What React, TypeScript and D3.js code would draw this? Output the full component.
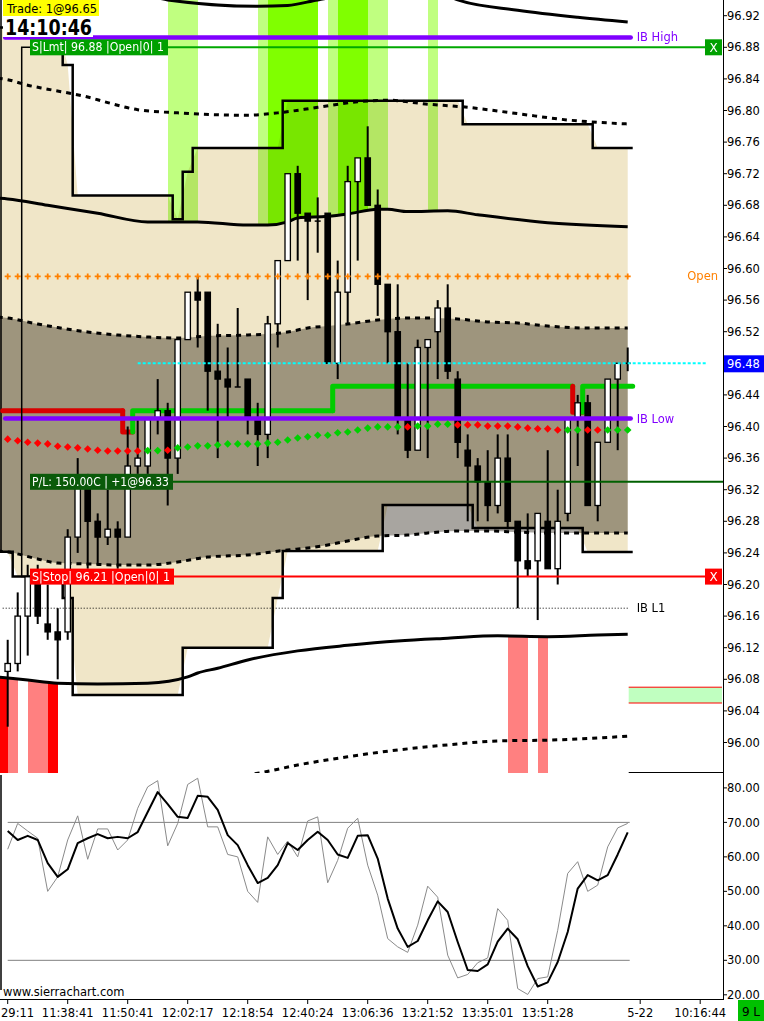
import { useEffect, useRef } from 'react'
import * as d3 from 'd3'

type Run = [number, number, number]
type Pt = [number, number]

const FONT = "Tahoma, 'DejaVu Sans', Verdana, sans-serif"
const WIDTH = 764
const HEIGHT = 1021

// one bar per slot, bar 0 = 11:29:11 ; [open, high, low, close]
const candles: [number, number, number, number][] = [
  [96.09, 96.13, 96.02, 96.10], [96.10, 96.19, 96.09, 96.16], [96.16, 96.225, 96.11, 96.21],
  [96.20, 96.225, 96.15, 96.16], [96.15, 96.20, 96.13, 96.14], [96.14, 96.17, 96.08, 96.13],
  [96.14, 96.27, 96.13, 96.26], [96.26, 96.36, 96.24, 96.325], [96.32, 96.34, 96.22, 96.28],
  [96.28, 96.29, 96.225, 96.26], [96.26, 96.32, 96.25, 96.27], [96.27, 96.28, 96.22, 96.26],
  [96.26, 96.40, 96.26, 96.35], [96.35, 96.41, 96.34, 96.36], [96.35, 96.41, 96.34, 96.41],
  [96.41, 96.46, 96.39, 96.42], [96.42, 96.43, 96.30, 96.36], [96.36, 96.51, 96.34, 96.51],
  [96.51, 96.57, 96.51, 96.57], [96.57, 96.59, 96.50, 96.56], [96.57, 96.57, 96.42, 96.47],
  [96.47, 96.53, 96.36, 96.46], [96.46, 96.50, 96.41, 96.45], [96.45, 96.55, 96.45, 96.45],
  [96.46, 96.46, 96.39, 96.41], [96.41, 96.43, 96.35, 96.39], [96.39, 96.54, 96.36, 96.53],
  [96.53, 96.61, 96.50, 96.61], [96.61, 96.72, 96.61, 96.72], [96.72, 96.73, 96.61, 96.67],
  [96.67, 96.67, 96.56, 96.66], [96.66, 96.69, 96.62, 96.66], [96.67, 96.67, 96.48, 96.48],
  [96.48, 96.61, 96.46, 96.57], [96.57, 96.73, 96.53, 96.71], [96.71, 96.74, 96.61, 96.74],
  [96.74, 96.78, 96.68, 96.68], [96.68, 96.70, 96.54, 96.58], [96.58, 96.58, 96.48, 96.52],
  [96.52, 96.58, 96.39, 96.41], [96.41, 96.48, 96.36, 96.37], [96.37, 96.51, 96.37, 96.50],
  [96.50, 96.51, 96.36, 96.51], [96.52, 96.56, 96.46, 96.55], [96.55, 96.58, 96.46, 96.47],
  [96.46, 96.47, 96.36, 96.38], [96.37, 96.39, 96.28, 96.35], [96.35, 96.36, 96.28, 96.33],
  [96.33, 96.37, 96.28, 96.30], [96.30, 96.39, 96.29, 96.36], [96.36, 96.39, 96.27, 96.28],
  [96.28, 96.28, 96.17, 96.23], [96.23, 96.29, 96.21, 96.22], [96.23, 96.29, 96.155, 96.29],
  [96.28, 96.37, 96.22, 96.22], [96.22, 96.32, 96.20, 96.28], [96.29, 96.41, 96.28, 96.41],
  [96.41, 96.44, 96.35, 96.43], [96.43, 96.44, 96.30, 96.30], [96.30, 96.38, 96.28, 96.38],
  [96.38, 96.46, 96.38, 96.46], [96.46, 96.48, 96.37, 96.48], [96.48, 96.50, 96.47, 96.48],
]

const timeTickBars = [0, 6, 12, 18, 24, 30, 36, 42, 48, 54, 63.25, 69.25]
const timeTickLabels = ['29:11', '11:38:41', '11:50:41', '12:02:17', '12:18:54', '12:40:24',
  '13:06:36', '13:21:52', '13:35:01', '13:51:28', '5-22', '10:16:44']

const priceTicks = [96.92, 96.88, 96.84, 96.80, 96.76, 96.72, 96.68, 96.64, 96.60, 96.56, 96.52,
  96.44, 96.40, 96.36, 96.32, 96.28, 96.24, 96.20, 96.16, 96.12, 96.08, 96.04, 96.00]
const oscTicks = [80, 70, 60, 50, 40, 30, 20]
const lastPrice = 96.48

// bands, [bar, price]
const outerBandTop: Pt[] = [[-1, 96.95], [14, 96.945], [16, 96.94], [25, 96.932], [28, 96.933], [31, 96.94],
  [36, 96.95], [40, 96.952], [44, 96.945], [45, 96.94], [51, 96.927], [57, 96.918], [62, 96.912]]
const dottedBandTop: Pt[] = [[-1, 96.841], [0, 96.839], [2, 96.832], [4, 96.827], [8, 96.817], [10, 96.81],
  [13, 96.801], [17, 96.797], [24, 96.794], [27, 96.797], [31, 96.804], [35, 96.811], [38, 96.813],
  [42, 96.808], [46, 96.804], [51, 96.796], [56, 96.788], [62, 96.783]]
const midBandTop: Pt[] = [[-1, 96.689], [0, 96.688], [4, 96.68], [9, 96.67], [14, 96.659], [19, 96.659],
  [24, 96.655], [26, 96.655], [28, 96.659], [29, 96.664], [32, 96.666], [34, 96.669], [37, 96.675],
  [38, 96.675], [40, 96.672], [44, 96.673], [47, 96.668], [54, 96.658], [62, 96.653]]
const innerBandBars = [-1, 0, 3, 5, 8, 11, 14, 17, 20, 24, 28, 30, 32, 34, 37, 40, 42, 45, 48, 51, 54, 58, 62]
const innerBandHigh = [96.5386, 96.5373, 96.5297, 96.5253, 96.5196, 96.5158, 96.5133, 96.512, 96.5146,
  96.5158, 96.5196, 96.5247, 96.5272, 96.5297, 96.5348, 96.5373, 96.5373, 96.5361, 96.5323, 96.531,
  96.5272, 96.5247, 96.5247]
const innerBandLow = [96.2424, 96.2411, 96.2323, 96.2272, 96.226, 96.2247, 96.2247, 96.2285, 96.2348,
  96.2374, 96.2437, 96.2462, 96.25, 96.2551, 96.2614, 96.2626, 96.2652, 96.2677, 96.2677, 96.2664,
  96.2652, 96.2652, 96.2652]
const midBandBottom: Pt[] = [[-1, 96.083], [2, 96.079], [5, 96.075], [9, 96.074], [14, 96.075], [18, 96.083],
  [19, 96.088], [21, 96.094], [24, 96.1045], [29, 96.116], [34, 96.123], [39, 96.1285], [44, 96.132],
  [49, 96.135], [54, 96.134], [59, 96.136], [62, 96.137]]
const dottedBandBottom: Pt[] = [[-1, 95.941], [0, 95.94], [10, 95.931], [15, 95.935], [20, 95.954], [25, 95.961],
  [29, 95.9715], [34, 95.982], [39, 95.9905], [44, 95.997], [49, 96.002], [54, 96.003], [59, 96.0057], [62, 96.008]]

// value area steps [fromBar, toBar, price]
const valueAreaHigh: Run[] = [[-1, 5, 96.905], [6, 6, 96.8575], [7, 16, 96.6925], [17, 17, 96.6625],
  [18, 18, 96.7225], [19, 27, 96.7525], [28, 45, 96.8125], [46, 58, 96.7825], [59, 62, 96.7525]]
const valueAreaLow: Run[] = [[-1, 0, 96.2415], [1, 5, 96.21], [6, 6, 96.183], [7, 17, 96.06],
  [18, 26, 96.12], [27, 27, 96.183], [28, 37, 96.2425], [38, 46, 96.3005], [47, 57, 96.2715], [58, 62, 96.241]]

// bar background colouring
const greenLightBars = [16, 17, 18, 25, 32, 36, 37, 42]
const greenBrightBars = [26, 27, 28, 29, 30, 33, 34, 35]
const redBars = [-1, 4]
const pinkBars = [0, 2, 3, 50, 51, 53]

// trailing stop [fromBar, toBar, price, colour]
const trailStop: [number, number, number, string][] = [
  [0, 11, 96.42, '#d80000'], [12, 12, 96.393, '#d80000'], [13, 32, 96.42, '#00cc00'],
  [33, 56, 96.451, '#00cc00'], [57, 57, 96.418, '#d80000'], [58, 62, 96.451, '#00cc00'],
]

// coloured moving average (diamonds)
const maValues = [96.384, 96.382, 96.38, 96.379, 96.378, 96.375, 96.374, 96.373, 96.3715, 96.37,
  96.369, 96.369, 96.369, 96.369, 96.3695, 96.3695, 96.37, 96.373, 96.374, 96.3755,
  96.3755, 96.3765, 96.378, 96.378, 96.378, 96.378, 96.379, 96.38, 96.383, 96.3855,
  96.387, 96.389, 96.389, 96.392, 96.393, 96.3955, 96.398, 96.3995, 96.3995, 96.3995,
  96.3995, 96.4005, 96.4005, 96.403, 96.403, 96.402, 96.402, 96.402, 96.4005, 96.4005,
  96.4005, 96.3995, 96.398, 96.397, 96.397, 96.3955, 96.3955, 96.3955, 96.3955, 96.3955,
  96.3955, 96.3955, 96.3955]
const maColorRuns: [number, number, string][] = [[0, 13, 'r'], [14, 15, 'g'], [16, 16, 'r'], [17, 39, 'g'],
  [40, 40, 'r'], [41, 44, 'g'], [45, 55, 'r'], [56, 57, 'g'], [58, 59, 'r'], [60, 62, 'g']]

// stochastic
const stochK = [62.2, 69.7, 67.5, 65.4, 50.0, 54.2, 64.9, 71.9, 59.3, 68.1, 68.1, 62.0, 64.9, 74.1, 80.3,
  82.1, 63.2, 69.7, 81.0, 82.8, 68.7, 68.7, 60.7, 60.0, 50.0, 46.8, 65.8, 60.7, 64.6, 60.0,
  70.4, 71.6, 52.5, 59.0, 68.3, 71.2, 57.6, 48.9, 36.3, 33.9, 32.3, 40.2, 51.5, 48.3, 31.5,
  24.9, 25.9, 29.3, 30.7, 45.0, 41.6, 21.8, 20.1, 24.7, 25.2, 38.7, 55.2, 58.6, 50.0, 51.8,
  62.9, 68.4, 69.7]
const stochD = [67.5, 64.9, 66.1, 64.9, 58.2, 54.2, 56.4, 64.0, 65.4, 66.6, 65.4, 65.8, 65.4, 67.2, 73.0,
  78.8, 75.3, 71.6, 71.3, 77.7, 77.4, 73.6, 66.3, 63.4, 57.6, 52.4, 53.9, 57.6, 64.0, 62.0,
  64.9, 67.3, 64.9, 60.7, 59.7, 66.1, 66.3, 59.5, 47.9, 39.2, 33.9, 35.6, 41.6, 47.1, 44.0,
  35.3, 27.2, 26.9, 28.8, 35.4, 39.2, 36.1, 28.3, 22.4, 23.6, 29.5, 38.2, 50.8, 54.7, 53.2,
  54.7, 60.7, 67.1]

const ibHigh = 96.8925
const ibLow = 96.41
const ibL1 = 96.17
const sessionOpen = 96.59
const targetPrice = 96.88
const stopPrice = 96.21
const entryPrice = 96.33
const zoneTop = 96.07
const zoneBottom = 96.05

export default function App() {
  const svgRef = useRef<SVGSVGElement>(null)

  useEffect(() => {
    if (!svgRef.current) return
    const svg = d3.select(svgRef.current)
    svg.selectAll('*').remove()
    svg.style('font-family', FONT)

    const axisX = 723
    const paneBottom = 773
    const oscTop = 775
    const timeAxisY = 999

    const x = d3.scaleLinear().domain([0, 62]).range([7.7, 627.7])
    const y = d3.scaleLinear().domain([96.0, 96.92]).range([742.5, 15.7])
    const yOsc = d3.scaleLinear().domain([20, 80]).range([994.8, 787.9])

    const band = d3.line<Pt>().x(d => x(d[0])).y(d => y(d[1])).curve(d3.curveMonotoneX)
    const left = x(-1)
    const right = x(62)

    const defs = svg.append('defs')
    defs.append('clipPath').attr('id', 'price-clip').append('rect')
      .attr('width', axisX).attr('height', paneBottom)
    defs.append('clipPath').attr('id', 'osc-clip').append('rect')
      .attr('y', oscTop).attr('width', axisX).attr('height', timeAxisY - oscTop)
    defs.append('clipPath').attr('id', 'osc-label-clip').append('rect')
      .attr('x', axisX).attr('y', oscTop).attr('width', WIDTH - axisX).attr('height', timeAxisY - oscTop)
    defs.append('clipPath').attr('id', 'above-mid').append('path')
      .attr('d', `${band(midBandTop)}L${right},0L${left},0Z`)
    defs.append('clipPath').attr('id', 'below-mid').append('path')
      .attr('d', `${band(midBandBottom)}L${right},${paneBottom}L${left},${paneBottom}Z`)

    svg.append('rect').attr('width', WIDTH).attr('height', HEIGHT).attr('fill', '#fff')

    // ---------- price pane ----------
    const pg = svg.append('g').attr('clip-path', 'url(#price-clip)')
    pg.append('rect').attr('width', axisX).attr('height', paneBottom).attr('fill', '#fff')

    const colTop = pg.append('g').attr('clip-path', 'url(#above-mid)').attr('shape-rendering', 'crispEdges')
    const colBottom = pg.append('g').attr('clip-path', 'url(#below-mid)').attr('shape-rendering', 'crispEdges')
    const column = (g: d3.Selection<SVGGElement, unknown, null, undefined>, k: number, fill: string) =>
      g.append('rect').attr('x', x(k)).attr('y', 0).attr('width', x(k + 1) - x(k))
        .attr('height', paneBottom).attr('fill', fill)
    greenLightBars.forEach(k => column(colTop, k, '#c0ff80'))
    greenBrightBars.forEach(k => column(colTop, k, '#80ff00'))
    redBars.forEach(k => column(colBottom, k, '#ff0000'))
    pinkBars.forEach(k => column(colBottom, k, '#ff8080'))

    // value area fill
    const expand = (runs: Run[]) => {
      const m = new Map<number, number>()
      runs.forEach(([a, b, v]) => d3.range(a, b + 1).forEach(k => m.set(k, v)))
      return m
    }
    const vaHi = expand(valueAreaHigh)
    const vaLo = expand(valueAreaLow)
    const vaArea = d3.area<number>().x(k => x(k)).y0(k => y(vaLo.get(k)!)).y1(k => y(vaHi.get(k)!))
    pg.append('path').attr('d', vaArea(d3.range(-1, 63))).attr('fill', '#f0e6c8')
      .style('mix-blend-mode', 'multiply')

    const innerArea = d3.area<number>().x(i => x(innerBandBars[i]))
      .y0(i => y(innerBandLow[i])).y1(i => y(innerBandHigh[i])).curve(d3.curveMonotoneX)
    pg.append('path').attr('d', innerArea(d3.range(innerBandBars.length))).attr('fill', 'rgb(168,165,160)')
      .style('mix-blend-mode', 'multiply')

    const innerTop: Pt[] = innerBandBars.map((k, i) => [k, innerBandHigh[i]])
    const innerBottom: Pt[] = innerBandBars.map((k, i) => [k, innerBandLow[i]])
    ;[outerBandTop, midBandTop, midBandBottom].forEach(d =>
      pg.append('path').attr('d', band(d)).attr('fill', 'none').attr('stroke', '#000').attr('stroke-width', 3))
    ;[dottedBandTop, innerTop, innerBottom, dottedBandBottom].forEach(d =>
      pg.append('path').attr('d', band(d)).attr('fill', 'none').attr('stroke', '#000')
        .attr('stroke-width', 3).attr('stroke-dasharray', '5 5'))

    // value area step lines
    const stepPath = (runs: Run[]) => runs.map(([a, b, v], i) =>
      `${i === 0 ? `M${x(a - 0.5)},${y(v)}` : `V${y(v)}`}H${x(b + 0.5)}`).join('')
    ;[valueAreaHigh, valueAreaLow].forEach(r =>
      pg.append('path').attr('d', stepPath(r)).attr('fill', 'none').attr('stroke', '#000').attr('stroke-width', 2.5))

    // left border
    pg.append('line').attr('x1', 1).attr('x2', 1).attr('y1', 0).attr('y2', y(innerBandLow[0]))
      .attr('stroke', '#000').attr('stroke-width', 1.5)

    // trailing stop
    trailStop.forEach(([a, b, v, c], i) => {
      const prev = i > 0 ? trailStop[i - 1][2] : v
      pg.append('path')
        .attr('d', `M${x(a - 0.5)},${y(prev)}V${y(v)}H${x(b + 0.5)}`)
        .attr('fill', 'none').attr('stroke', c).attr('stroke-width', 5)
        .attr('stroke-linecap', 'round').attr('stroke-linejoin', 'round')
    })

    // candles
    candles.forEach(([o, h, l, c], k) => {
      const cx = x(k)
      pg.append('line').attr('x1', cx).attr('x2', cx).attr('y1', y(h)).attr('y2', y(l))
        .attr('stroke', '#000').attr('stroke-width', 2)
      if (o === c) {
        pg.append('line').attr('x1', cx - 3).attr('x2', cx + 3).attr('y1', y(o)).attr('y2', y(o))
          .attr('stroke', '#000').attr('stroke-width', 1.5)
      } else {
        const up = c > o
        pg.append('rect').attr('x', cx - 2.7).attr('width', 5.4)
          .attr('y', y(Math.max(o, c))).attr('height', Math.abs(y(o) - y(c)))
          .attr('fill', up ? '#fff' : '#000').attr('stroke', '#000').attr('stroke-width', 1.3)
      }
    })

    // IB L1
    pg.append('line').attr('x1', x(-0.5)).attr('x2', x(62.2)).attr('y1', y(ibL1)).attr('y2', y(ibL1))
      .attr('stroke', '#000').attr('stroke-width', 1).attr('stroke-dasharray', '1 2')

    // session open markers
    d3.range(0, 63).forEach(k => {
      pg.append('path').attr('d', 'M-3,0H3M0,-3V3')
        .attr('transform', `translate(${x(k)},${y(sessionOpen)})`)
        .attr('stroke', '#ff8000').attr('stroke-width', 1.8)
    })

    // last price line
    pg.append('line').attr('x1', x(13)).attr('x2', x(69.9)).attr('y1', y(lastPrice)).attr('y2', y(lastPrice))
      .attr('stroke', '#00ffff').attr('stroke-width', 2).attr('stroke-dasharray', '3 2')

    // IB high / low
    ;[ibHigh, ibLow].forEach(p =>
      pg.append('line').attr('x1', x(-0.25)).attr('x2', x(62.3)).attr('y1', y(p)).attr('y2', y(p))
        .attr('stroke', '#8000ff').attr('stroke-width', 4.5).attr('stroke-linecap', 'round'))

    // order lines
    pg.append('line').attr('x1', 168).attr('x2', 705).attr('y1', y(targetPrice)).attr('y2', y(targetPrice))
      .attr('stroke', '#00a800').attr('stroke-width', 2)
    pg.append('line').attr('x1', 174).attr('x2', 705).attr('y1', y(stopPrice)).attr('y2', y(stopPrice))
      .attr('stroke', '#ff0000').attr('stroke-width', 2)
    pg.append('line').attr('x1', 173).attr('x2', axisX).attr('y1', y(entryPrice)).attr('y2', y(entryPrice))
      .attr('stroke', '#006000').attr('stroke-width', 2)
    pg.append('path').attr('d', `M30,${y(targetPrice)}H21.7V${y(stopPrice)}H30`)
      .attr('fill', 'none').attr('stroke', '#000').attr('stroke-width', 1.5)

    // coloured MA diamonds
    const maColor = (k: number) => {
      const run = maColorRuns.find(([a, b]) => k >= a && k <= b)
      return run && run[2] === 'g' ? '#00d000' : '#ff0000'
    }
    maValues.forEach((v, k) => {
      pg.append('path').attr('d', 'M0,-3.8L3.8,0L0,3.8L-3.8,0Z')
        .attr('transform', `translate(${x(k)},${y(v)})`).attr('fill', maColor(k))
    })

    // target zone
    pg.append('rect').attr('x', x(62.1)).attr('width', axisX - 1 - x(62.1))
      .attr('y', y(zoneTop)).attr('height', y(zoneBottom) - y(zoneTop))
      .attr('fill', '#c0ffc0').attr('stroke', 'none')
    ;[zoneTop, zoneBottom].forEach(p =>
      pg.append('line').attr('x1', x(62.1)).attr('x2', axisX - 1).attr('y1', y(p)).attr('y2', y(p))
        .attr('stroke', '#ff0000').attr('stroke-width', 1))

    pg.append('line').attr('x1', x(62.1)).attr('x2', axisX).attr('y1', paneBottom - 0.5).attr('y2', paneBottom - 0.5)
      .attr('stroke', '#000').attr('stroke-width', 1.2)

    // line labels
    const lineLabel = (txt: string, px: number, p: number, fill: string, anchor = 'start') =>
      pg.append('text').attr('x', px).attr('y', y(p)).attr('dy', '0.35em').attr('text-anchor', anchor)
        .attr('font-size', 11.5).attr('fill', fill).text(txt)
    lineLabel('IB High', x(62.9), ibHigh, '#8000ff')
    lineLabel('IB Low', x(62.9), ibLow, '#8000ff')
    lineLabel('Open', 718, sessionOpen, '#ff8000', 'end')
    lineLabel('IB L1', x(62.9), ibL1, '#000')

    // order tags
    const tag = (txt: string, p: number, w: number, bg: string) => {
      pg.append('rect').attr('x', 30).attr('y', y(p) - 8).attr('width', w).attr('height', 16).attr('fill', bg)
      pg.append('text').attr('x', 32).attr('y', y(p)).attr('dy', '0.36em').attr('font-size', 11.5)
        .attr('fill', '#fff').attr('textLength', w - 6).attr('lengthAdjust', 'spacingAndGlyphs').text(txt)
    }
    tag('S|Lmt| 96.88 |Open|0| 1', targetPrice, 138, '#00a000')
    tag('S|Stop| 96.21 |Open|0| 1', stopPrice, 144, '#ff0000')
    tag('P/L: 150.00C | +1@96.33', entryPrice, 143, '#0a5a0a')
    const xBox = (p: number, bg: string) => {
      pg.append('rect').attr('x', 705).attr('y', y(p) - 8).attr('width', 17).attr('height', 16).attr('fill', bg)
      pg.append('text').attr('x', 713.5).attr('y', y(p)).attr('dy', '0.36em').attr('text-anchor', 'middle')
        .attr('font-size', 12).attr('fill', '#fff').text('X')
    }
    xBox(targetPrice, '#00a000')
    xBox(stopPrice, '#ff0000')

    // ---------- oscillator ----------
    const og = svg.append('g').attr('clip-path', 'url(#osc-clip)')
    og.append('line').attr('x1', 1).attr('x2', 1).attr('y1', oscTop).attr('y2', 990)
      .attr('stroke', '#000').attr('stroke-width', 1.5)
    ;[70, 30].forEach(v =>
      og.append('line').attr('x1', x(0)).attr('x2', x(62.2)).attr('y1', yOsc(v)).attr('y2', yOsc(v))
        .attr('stroke', '#808080').attr('stroke-width', 1))
    const oscLine = d3.line<number>().x((_, k) => x(k)).y(v => yOsc(v))
    og.append('path').attr('d', oscLine(stochK)).attr('fill', 'none').attr('stroke', '#8a8a8a').attr('stroke-width', 1)
    og.append('path').attr('d', oscLine(stochD)).attr('fill', 'none').attr('stroke', '#000').attr('stroke-width', 2)
      .attr('stroke-linejoin', 'round')

    // ---------- axes ----------
    svg.append('line').attr('x1', axisX + 0.5).attr('x2', axisX + 0.5).attr('y1', 0).attr('y2', timeAxisY)
      .attr('stroke', '#000').attr('stroke-width', 1)
    priceTicks.forEach(p => {
      svg.append('line').attr('x1', axisX).attr('x2', axisX + 4).attr('y1', y(p)).attr('y2', y(p))
        .attr('stroke', '#000')
      svg.append('text').attr('x', axisX + 4).attr('y', y(p)).attr('dy', '0.36em')
        .attr('font-size', 11.5).attr('fill', '#000').text(d3.format('.2f')(p))
    })
    svg.append('rect').attr('x', axisX + 1).attr('y', y(lastPrice) - 8).attr('width', 40).attr('height', 17)
      .attr('fill', '#0000ff')
    svg.append('text').attr('x', axisX + 4).attr('y', y(lastPrice)).attr('dy', '0.38em')
      .attr('font-size', 11.5).attr('fill', '#fff').text(d3.format('.2f')(lastPrice))

    const ol = svg.append('g').attr('clip-path', 'url(#osc-label-clip)')
    oscTicks.forEach(v => {
      ol.append('line').attr('x1', axisX).attr('x2', axisX + 4).attr('y1', yOsc(v)).attr('y2', yOsc(v))
        .attr('stroke', '#000')
      ol.append('text').attr('x', axisX + 4).attr('y', yOsc(v)).attr('dy', '0.36em')
        .attr('font-size', 11.5).attr('fill', '#000').text(d3.format('.2f')(v))
    })

    svg.append('line').attr('x1', 0).attr('x2', axisX + 1).attr('y1', timeAxisY + 0.5).attr('y2', timeAxisY + 0.5)
      .attr('stroke', '#000')
    timeTickBars.forEach((k, i) => {
      svg.append('line').attr('x1', x(k)).attr('x2', x(k)).attr('y1', timeAxisY).attr('y2', timeAxisY + 5)
        .attr('stroke', '#000')
      svg.append('text').attr('x', i === 0 ? 1 : x(k)).attr('y', 1016.5)
        .attr('text-anchor', i === 0 ? 'start' : 'middle')
        .attr('font-size', 11.5).attr('fill', '#000').text(timeTickLabels[i])
    })
    svg.append('rect').attr('x', 738).attr('y', 1000).attr('width', 26).attr('height', 21).attr('fill', '#00c000')
    svg.append('text').attr('x', 751).attr('y', 1016).attr('text-anchor', 'middle')
      .attr('font-size', 12).attr('fill', '#000').text('9 L')

    svg.append('text').attr('x', 3).attr('y', 996).attr('font-size', 11.5).attr('fill', '#000')
      .text('www.sierrachart.com')

    // top-left info
    svg.append('rect').attr('x', 3).attr('y', 0).attr('width', 96).attr('height', 16).attr('fill', '#ffff00')
    svg.append('text').attr('x', 7).attr('y', 12.5).attr('font-size', 12).attr('fill', '#000')
      .attr('textLength', 90).attr('lengthAdjust', 'spacingAndGlyphs').text('Trade: 1@96.65')
    svg.append('rect').attr('x', 3).attr('y', 16).attr('width', 90).attr('height', 21).attr('fill', '#fff')
    svg.append('text').attr('x', 5).attr('y', 35).attr('font-size', 22).attr('font-weight', 'bold')
      .attr('fill', '#000').attr('textLength', 87).attr('lengthAdjust', 'spacingAndGlyphs').text('14:10:46')
  }, [])

  return (
    <svg
      ref={svgRef}
      width={WIDTH}
      height={HEIGHT}
      style={{ position: 'absolute', left: 0, top: 0, display: 'block' }}
    />
  )
}
